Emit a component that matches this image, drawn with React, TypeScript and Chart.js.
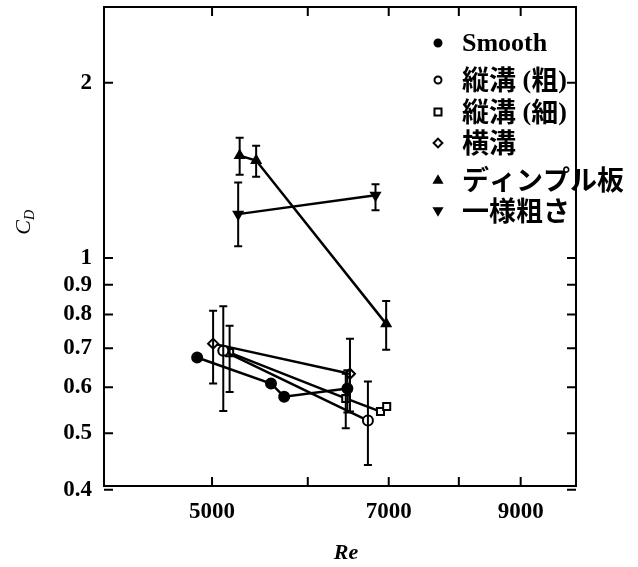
import React, { useEffect, useRef } from 'react';
import { Chart, registerables } from 'chart.js';

Chart.register(...registerables);

// ---- data ----
const seriesNames = ['Smooth', '縦溝 (粗)', '縦溝 (細)', '横溝', 'ディンプル板', '一様粗さ'];

const smoothRe = [4860, 5594, 5736, 6470];
const smoothCd = [0.675, 0.609, 0.578, 0.597];
const smoothHi = [null, null, null, 0.642];
const smoothLo = [null, null, null, 0.543];

const coarseRe = [5108, 6728];
const coarseCd = [0.693, 0.526];
const coarseHi = [0.827, 0.614];
const coarseLo = [0.546, 0.441];

const fineRe = [5170, 6450, 6891, 6973];
const fineCd = [0.688, 0.574, 0.545, 0.556];
const fineHi = [0.765, 0.633, null, null];
const fineLo = [0.589, 0.51, null, null];

const transRe = [5010, 6502];
const transCd = [0.713, 0.633];
const transHi = [0.812, 0.727];
const transLo = [0.609, 0.545];

const dimpleRe = [5270, 5438, 6966];
const dimpleCd = [1.5, 1.471, 0.771];
const dimpleHi = [1.61, 1.56, 0.844];
const dimpleLo = [1.39, 1.38, 0.696];

const roughRe = [5255, 6826];
const roughCd = [1.19, 1.282];
const roughHi = [1.349, 1.339];
const roughLo = [1.048, 1.208];

const xTickValues = [5000, 6000, 7000, 8000, 9000];
const xTickLabels = ['5000', '', '7000', '', '9000'];
const yTickValues = [0.4, 0.5, 0.6, 0.7, 0.8, 0.9, 1, 2];
const yTickLabels = ['0.4', '0.5', '0.6', '0.7', '0.8', '0.9', '1', '2'];

const toPts = (xs: number[], ys: number[]) => xs.map((x, i) => ({ x, y: ys[i] }));

type Sty = { style: string; fill: boolean; rot: number };
const markerStyles: Sty[] = [
  { style: 'circle', fill: true, rot: 0 },
  { style: 'circle', fill: false, rot: 0 },
  { style: 'rect', fill: false, rot: 0 },
  { style: 'rectRot', fill: false, rot: 0 },
  { style: 'triangle', fill: true, rot: 0 },
  { style: 'triangle', fill: true, rot: 180 },
];

const SERIF = '"Liberation Serif", "DejaVu Serif", serif';
const CJK = '"Noto Sans CJK JP", "Noto Sans CJK SC", sans-serif';

function drawMarker(ctx: CanvasRenderingContext2D, kind: number, x: number, y: number, r: number) {
  const s = markerStyles[kind];
  ctx.save();
  ctx.beginPath();
  if (s.style === 'circle') {
    ctx.arc(x, y, r, 0, Math.PI * 2);
  } else if (s.style === 'rect') {
    ctx.rect(x - r, y - r, 2 * r, 2 * r);
  } else if (s.style === 'rectRot') {
    ctx.moveTo(x, y - r * 1.25);
    ctx.lineTo(x + r * 1.25, y);
    ctx.lineTo(x, y + r * 1.25);
    ctx.lineTo(x - r * 1.25, y);
    ctx.closePath();
  } else if (s.style === 'triangle') {
    const d = s.rot === 180 ? -1 : 1;
    ctx.moveTo(x, y - d * r * 1.1);
    ctx.lineTo(x + r * 1.1, y + d * r * 0.8);
    ctx.lineTo(x - r * 1.1, y + d * r * 0.8);
    ctx.closePath();
  }
  ctx.lineWidth = 2;
  ctx.strokeStyle = '#000';
  ctx.fillStyle = s.fill ? '#000' : '#fff';
  ctx.fill();
  ctx.stroke();
  ctx.restore();
}

function drawMixed(ctx: CanvasRenderingContext2D, text: string, x: number, y: number) {
  // Latin runs in serif, CJK runs in the CJK font (slightly larger, as in the print)
  const runs: { t: string; cjk: boolean }[] = [];
  for (const ch of Array.from(text)) {
    const cjk = /[\u3000-\u9fff\uff00-\uffef]/.test(ch);
    const last = runs[runs.length - 1];
    if (last && last.cjk === cjk) last.t += ch;
    else runs.push({ t: ch, cjk });
  }
  let cx = x;
  runs.forEach((r) => {
    ctx.font = r.cjk ? `bold 27px ${CJK}` : `bold 26px ${SERIF}`;
    ctx.fillText(r.t, cx, r.cjk ? y : y + 1);
    cx += ctx.measureText(r.t).width;
  });
}

const framePlugin = {
  id: 'frameTicks',
  afterDatasetsDraw(chart: any) {
    const { ctx, chartArea: a, scales } = chart;
    const xs = scales.x;
    const ys = scales.y;
    ctx.save();
    ctx.strokeStyle = '#000';
    ctx.lineWidth = 2;
    ctx.strokeRect(a.left, a.top, a.right - a.left, a.bottom - a.top);
    ctx.beginPath();
    const tl = 9;
    xTickValues.forEach((v) => {
      const px = xs.getPixelForValue(v);
      ctx.moveTo(px, a.bottom);
      ctx.lineTo(px, a.bottom - tl);
      ctx.moveTo(px, a.top);
      ctx.lineTo(px, a.top + tl);
    });
    yTickValues.forEach((v) => {
      const py = ys.getPixelForValue(v);
      ctx.moveTo(a.left, py);
      ctx.lineTo(a.left + tl, py);
      ctx.moveTo(a.right, py);
      ctx.lineTo(a.right - tl, py);
    });
    ctx.stroke();

    // error bars
    chart.data.datasets.forEach((ds: any, i: number) => {
      const meta = chart.getDatasetMeta(i);
      (ds.errHi || []).forEach((hi: number | null, j: number) => {
        const lo = ds.errLo[j];
        if (hi == null || lo == null) return;
        const px = meta.data[j].x;
        const yh = ys.getPixelForValue(hi);
        const yl = ys.getPixelForValue(lo);
        ctx.beginPath();
        ctx.lineWidth = 2;
        ctx.moveTo(px, yh);
        ctx.lineTo(px, yl);
        ctx.moveTo(px - 4, yh);
        ctx.lineTo(px + 4, yh);
        ctx.moveTo(px - 4, yl);
        ctx.lineTo(px + 4, yl);
        ctx.stroke();
      });
    });

    // axis titles
    ctx.fillStyle = '#000';
    ctx.textAlign = 'center';
    ctx.textBaseline = 'middle';
    ctx.font = `italic bold 22px ${SERIF}`;
    ctx.fillText('Re', 346, 553);
    ctx.save();
    ctx.translate(24, 222);
    ctx.rotate(-Math.PI / 2);
    ctx.font = `italic 22px ${SERIF}`;
    ctx.textAlign = 'right';
    ctx.fillText('C', 2, 0);
    ctx.font = `italic 14px ${SERIF}`;
    ctx.textAlign = 'left';
    ctx.fillText('D', 2, 6);
    ctx.restore();

    // legend
    const rows = [43, 80, 112, 143, 180, 211];
    seriesNames.forEach((name, i) => {
      drawMarker(ctx, i, 438, rows[i], 3.5);
      ctx.fillStyle = '#000';
      ctx.textAlign = 'left';
      ctx.textBaseline = 'middle';
      drawMixed(ctx, name, 462, rows[i]);
    });
    ctx.restore();
  },
};

export default function App() {
  const ref = useRef<HTMLCanvasElement | null>(null);
  useEffect(() => {
    if (!ref.current) return;
    const mk = (i: number, xs: number[], ys: number[], hi: (number | null)[], lo: (number | null)[]) => ({
      label: seriesNames[i],
      data: toPts(xs, ys),
      errHi: hi,
      errLo: lo,
      borderColor: '#000',
      backgroundColor: markerStyles[i].fill ? '#000' : '#fff',
      pointBackgroundColor: markerStyles[i].fill ? '#000' : '#fff',
      pointBorderColor: '#000',
      pointStyle: markerStyles[i].style,
      pointRotation: markerStyles[i].rot,
      pointRadius: 5,
      pointBorderWidth: 2,
      borderWidth: 2.5,
      showLine: true,
      tension: 0,
    });
    const chart = new Chart(ref.current, {
      type: 'scatter',
      data: {
        datasets: [
          mk(0, smoothRe, smoothCd, smoothHi, smoothLo),
          mk(1, coarseRe, coarseCd, coarseHi, coarseLo),
          mk(2, fineRe, fineCd, fineHi, fineLo),
          mk(3, transRe, transCd, transHi, transLo),
          mk(4, dimpleRe, dimpleCd, dimpleHi, dimpleLo),
          mk(5, roughRe, roughCd, roughHi, roughLo),
        ] as any,
      },
      options: {
        animation: false,
        responsive: true,
        maintainAspectRatio: false,
        layout: { padding: { top: 5, right: 62, left: 0, bottom: 0 } },
        plugins: { legend: { display: false }, tooltip: { enabled: false } },
        scales: {
          x: {
            type: 'logarithmic',
            min: 4070,
            max: 10000,
            grid: { display: false, drawTicks: false },
            border: { display: false },
            afterBuildTicks: (s: any) => {
              s.ticks = xTickValues.map((v) => ({ value: v }));
            },
            afterFit: (s: any) => {
              s.height = 81;
              s.paddingLeft = 0;
              s.paddingRight = 0;
            },
            ticks: {
              autoSkip: false,
              maxRotation: 0,
              padding: 12,
              color: '#000',
              font: { family: SERIF, size: 23, weight: 'bold' },
              callback: (v: any) => {
                const i = xTickValues.indexOf(Number(v));
                return i >= 0 ? xTickLabels[i] : '';
              },
            },
          },
          y: {
            type: 'logarithmic',
            min: 0.406,
            max: 2.7,
            grid: { display: false, drawTicks: false },
            border: { display: false },
            afterBuildTicks: (s: any) => {
              s.ticks = yTickValues.map((v) => ({ value: v }));
            },
            afterFit: (s: any) => {
              s.width = 104;
              s.paddingTop = 0;
              s.paddingBottom = 0;
            },
            ticks: {
              autoSkip: false,
              padding: 12,
              color: '#000',
              font: { family: SERIF, size: 23, weight: 'bold' },
              callback: (v: any) => {
                const i = yTickValues.findIndex((t) => Math.abs(t - Number(v)) < 1e-9);
                return i >= 0 ? yTickLabels[i] : '';
              },
            },
          },
        },
      } as any,
      plugins: [framePlugin],
    });
    return () => chart.destroy();
  }, []);
  return (
    <div style={{ position: 'fixed', left: 0, top: 0, width: 638, height: 567, background: '#fff' }}>
      <canvas ref={ref} />
    </div>
  );
}
